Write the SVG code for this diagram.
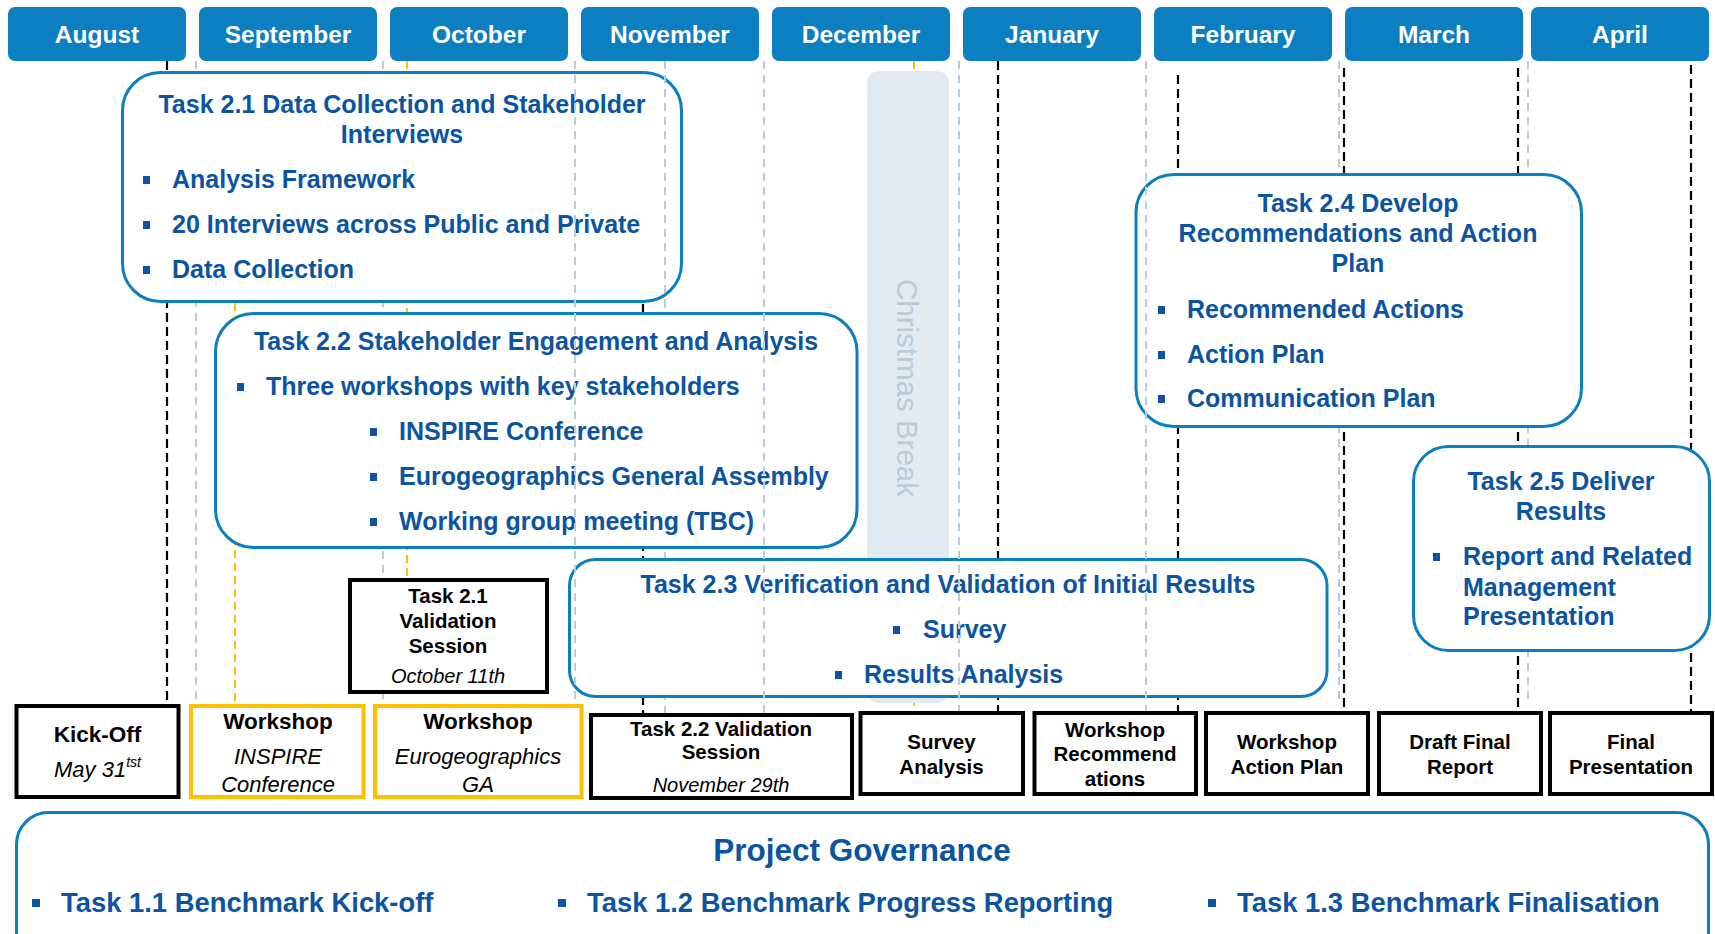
<svg xmlns="http://www.w3.org/2000/svg" width="1715" height="934" viewBox="0 0 1715 934">
<style>
text{font-family:"Liberation Sans",Arial,sans-serif}
.hdr{fill:#0B7FC1}
.ht{font-weight:bold;font-size:24.5px;fill:#fff;text-anchor:middle}
.task{fill:#fff;stroke:#0B7FC1;stroke-width:3}
.tt{font-weight:bold;font-size:25px;fill:#0B54A2}
.c{text-anchor:middle}
.bul{fill:#0B54A2}
.blk{fill:#fff;stroke:#000;stroke-width:4}
.ylw{fill:#fff;stroke:#FFC000;stroke-width:4}
.bt{font-weight:bold;font-size:20.5px;fill:#000;text-anchor:middle}
.bt2{font-weight:bold;font-size:22.5px;fill:#000;text-anchor:middle}
.it{font-style:italic;font-size:20px;fill:#000;text-anchor:middle}
.it2{font-style:italic;font-size:22px;fill:#000;text-anchor:middle}
.dk{stroke:#000;stroke-width:2.2;stroke-dasharray:9 5;fill:none}
.lt{stroke:#B8CDDD;stroke-width:2;stroke-dasharray:8 6;fill:none}
.yl{stroke:#FFC000;stroke-width:2;stroke-dasharray:8 5;fill:none}
.pg{font-weight:bold;font-size:27.4px;fill:#0B54A2}
</style>
<rect width="1715" height="934" fill="#fff"/>

<g id="connectors-back">
  <line class="lt" x1="196" y1="61" x2="196" y2="704"/>
  <line class="lt" x1="383" y1="61" x2="383" y2="704"/>
  <line class="lt" x1="665" y1="300" x2="665" y2="713"/>
  <line class="lt" x1="1339" y1="61" x2="1339" y2="704"/>
  <line class="lt" x1="1528" y1="61" x2="1528" y2="704"/>
  <line class="dk" x1="167" y1="61" x2="167" y2="704"/>
  <line class="dk" x1="643" y1="290" x2="643" y2="713"/>
  <line class="dk" x1="998" y1="61" x2="998" y2="711"/>
  <line class="dk" x1="1178" y1="75" x2="1178" y2="711"/>
  <line class="dk" x1="1344" y1="68" x2="1344" y2="711"/>
  <line class="dk" x1="1518" y1="68" x2="1518" y2="711"/>
  <line class="dk" x1="1691" y1="65" x2="1691" y2="711"/>
  <line class="yl" x1="235" y1="290" x2="235" y2="704"/>
  <line class="yl" x1="407" y1="61" x2="407" y2="578"/>
  <line class="yl" x1="914" y1="61" x2="914" y2="711"/>
</g>

<g id="christmas-break">
  <rect x="867" y="71" width="82" height="632" rx="12" fill="#E2EBF2"/>
  <text transform="translate(907,388) rotate(90)" x="0" y="10" font-size="29.5" fill="#B8CCDB" text-anchor="middle">Christmas Break</text>
</g>

<g id="task-2-1">
  <rect class="task" x="122.5" y="72.5" width="559" height="229" rx="38"/>
  <text class="tt c" x="402" y="113">Task 2.1 Data Collection and Stakeholder</text>
  <text class="tt c" x="402" y="143">Interviews</text>
  <rect class="bul" x="143" y="176" width="7" height="8"/>
  <text class="tt" x="172" y="188">Analysis Framework</text>
  <rect class="bul" x="143" y="221" width="7" height="8"/>
  <text class="tt" x="172" y="233">20 Interviews across Public and Private</text>
  <rect class="bul" x="143" y="266" width="7" height="8"/>
  <text class="tt" x="172" y="278">Data Collection</text>
</g>

<g id="task-2-2">
  <rect class="task" x="215.5" y="313.5" width="641.5" height="234" rx="38"/>
  <text class="tt c" x="536" y="350">Task 2.2 Stakeholder Engagement and Analysis</text>
  <rect class="bul" x="237" y="383" width="7" height="8"/>
  <text class="tt" x="266" y="395">Three workshops with key stakeholders</text>
  <rect class="bul" x="370" y="428" width="7" height="8"/>
  <text class="tt" x="399" y="440">INSPIRE Conference</text>
  <rect class="bul" x="370" y="473" width="7" height="8"/>
  <text class="tt" x="399" y="485">Eurogeographics General Assembly</text>
  <rect class="bul" x="370" y="518" width="7" height="8"/>
  <text class="tt" x="399" y="530">Working group meeting (TBC)</text>
</g>

<g id="task-2-3">
  <rect class="task" x="569.5" y="559.5" width="757.5" height="137" rx="26"/>
  <text class="tt c" x="948" y="593">Task 2.3 Verification and Validation of Initial Results</text>
  <rect class="bul" x="893" y="626" width="7" height="8"/>
  <text class="tt" x="923" y="638">Survey</text>
  <rect class="bul" x="835" y="671" width="7" height="8"/>
  <text class="tt" x="864" y="683">Results Analysis</text>
</g>

<g id="task-2-4">
  <rect class="task" x="1136" y="174.5" width="445.5" height="252" rx="38"/>
  <text class="tt c" x="1358" y="212">Task 2.4 Develop</text>
  <text class="tt c" x="1358" y="242">Recommendations and Action</text>
  <text class="tt c" x="1358" y="272">Plan</text>
  <rect class="bul" x="1158" y="306" width="7" height="8"/>
  <text class="tt" x="1187" y="318">Recommended Actions</text>
  <rect class="bul" x="1158" y="351" width="7" height="8"/>
  <text class="tt" x="1187" y="363">Action Plan</text>
  <rect class="bul" x="1158" y="395" width="7" height="8"/>
  <text class="tt" x="1187" y="407">Communication Plan</text>
</g>

<g id="task-2-5">
  <rect class="task" x="1413.5" y="446.5" width="296" height="204" rx="35"/>
  <text class="tt c" x="1561" y="490">Task 2.5 Deliver</text>
  <text class="tt c" x="1561" y="520">Results</text>
  <rect class="bul" x="1433" y="553" width="7" height="8"/>
  <text class="tt" x="1463" y="565">Report and Related</text>
  <text class="tt" x="1463" y="596">Management</text>
  <text class="tt" x="1463" y="625">Presentation</text>
</g>

<g id="task-2-1-validation">
  <rect class="blk" x="350" y="580" width="197" height="112"/>
  <text class="bt" x="448" y="603">Task 2.1</text>
  <text class="bt" x="448" y="628">Validation</text>
  <text class="bt" x="448" y="653">Session</text>
  <text class="it" x="448" y="683">October 11th</text>
</g>

<g id="kick-off">
  <rect class="blk" x="16.5" y="706" width="162" height="91"/>
  <text class="bt2" x="97.5" y="742">Kick-Off</text>
  <text class="it2" x="97.5" y="777">May 31<tspan font-size="14" dy="-10">tst</tspan></text>
</g>

<g id="workshop-inspire">
  <rect class="ylw" x="191" y="706" width="172.5" height="91"/>
  <text class="bt2" x="278" y="729">Workshop</text>
  <text class="it2" x="278" y="764">INSPIRE</text>
  <text class="it2" x="278" y="792">Conference</text>
</g>

<g id="workshop-eurogeographics">
  <rect class="ylw" x="375" y="706" width="206.5" height="91"/>
  <text class="bt2" x="478" y="729">Workshop</text>
  <text class="it2" x="478" y="764">Eurogeographics</text>
  <text class="it2" x="478" y="792">GA</text>
</g>

<g id="task-2-2-validation">
  <rect class="blk" x="591" y="715" width="261" height="83"/>
  <text class="bt" x="721" y="736">Task 2.2 Validation</text>
  <text class="bt" x="721" y="759">Session</text>
  <text class="it" x="721" y="792">November 29th</text>
</g>

<g id="survey-analysis">
  <rect class="blk" x="860.5" y="713" width="162.5" height="81"/>
  <text class="bt" x="941.5" y="749">Survey</text>
  <text class="bt" x="941.5" y="774">Analysis</text>
</g>

<g id="workshop-recommendations">
  <rect class="blk" x="1034.5" y="713" width="161.5" height="81"/>
  <text class="bt" x="1115" y="737">Workshop</text>
  <text class="bt" x="1115" y="761">Recommend</text>
  <text class="bt" x="1115" y="786">ations</text>
</g>

<g id="workshop-action-plan">
  <rect class="blk" x="1206" y="713" width="162" height="81"/>
  <text class="bt" x="1287" y="749">Workshop</text>
  <text class="bt" x="1287" y="774">Action Plan</text>
</g>

<g id="draft-final-report">
  <rect class="blk" x="1379" y="713" width="162" height="81"/>
  <text class="bt" x="1460" y="749">Draft Final</text>
  <text class="bt" x="1460" y="774">Report</text>
</g>

<g id="final-presentation">
  <rect class="blk" x="1550" y="713" width="162" height="81"/>
  <text class="bt" x="1631" y="749">Final</text>
  <text class="bt" x="1631" y="774">Presentation</text>
</g>

<g id="project-governance">
  <rect class="task" x="16.5" y="812.5" width="1692" height="160" rx="32"/>
  <text x="862" y="861" font-weight="bold" font-size="31.5" fill="#0B54A2" text-anchor="middle">Project Governance</text>
  <rect class="bul" x="32" y="899" width="8" height="8"/>
  <text class="pg" x="61" y="912">Task 1.1 Benchmark Kick-off</text>
  <rect class="bul" x="558" y="899" width="8" height="8"/>
  <text class="pg" x="587" y="912">Task 1.2 Benchmark Progress Reporting</text>
  <rect class="bul" x="1208" y="899" width="8" height="8"/>
  <text class="pg" x="1237" y="912">Task 1.3 Benchmark Finalisation</text>
</g>

<g id="connectors-front">
  <line class="lt" x1="575" y1="61" x2="575" y2="704"/>
  <line class="lt" x1="665" y1="61" x2="665" y2="300"/>
  <line class="lt" x1="764" y1="61" x2="764" y2="713"/>
  <line class="lt" x1="959" y1="61" x2="959" y2="711"/>
  <line class="lt" x1="1146" y1="61" x2="1146" y2="711"/>
</g>

<g id="month-august"><rect class="hdr" x="8" y="7" width="178" height="54" rx="7"/><text class="ht" x="97" y="43">August</text></g>
<g id="month-september"><rect class="hdr" x="199" y="7" width="178" height="54" rx="7"/><text class="ht" x="288" y="43">September</text></g>
<g id="month-october"><rect class="hdr" x="390" y="7" width="178" height="54" rx="7"/><text class="ht" x="479" y="43">October</text></g>
<g id="month-november"><rect class="hdr" x="581" y="7" width="178" height="54" rx="7"/><text class="ht" x="670" y="43">November</text></g>
<g id="month-december"><rect class="hdr" x="772" y="7" width="178" height="54" rx="7"/><text class="ht" x="861" y="43">December</text></g>
<g id="month-january"><rect class="hdr" x="963" y="7" width="178" height="54" rx="7"/><text class="ht" x="1052" y="43">January</text></g>
<g id="month-february"><rect class="hdr" x="1154" y="7" width="178" height="54" rx="7"/><text class="ht" x="1243" y="43">February</text></g>
<g id="month-march"><rect class="hdr" x="1345" y="7" width="178" height="54" rx="7"/><text class="ht" x="1434" y="43">March</text></g>
<g id="month-april"><rect class="hdr" x="1531" y="7" width="178" height="54" rx="7"/><text class="ht" x="1620" y="43">April</text></g>
</svg>
